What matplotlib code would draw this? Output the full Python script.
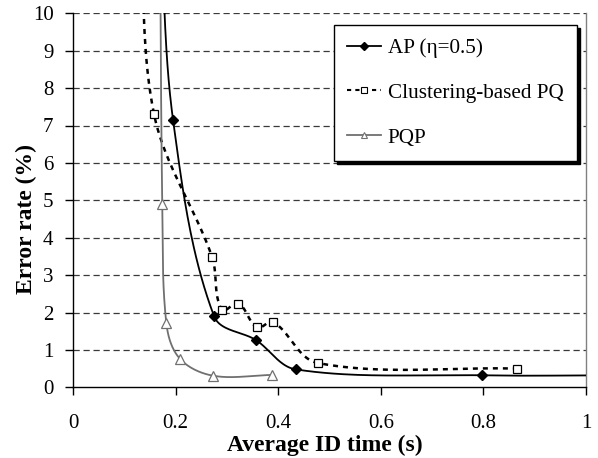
import numpy as np
import matplotlib
matplotlib.use("Agg")
import matplotlib.pyplot as plt
from matplotlib.lines import Line2D

plt.rcParams['font.family'] = ['Liberation Serif', 'DejaVu Serif']

# ---- data ----
ap_x = [0.170, 0.195, 0.275, 0.357, 0.434, 0.798, 1.05]
ap_y = [12.5, 7.15, 1.90, 1.26, 0.48, 0.32, 0.32]

cpq_x = [0.131, 0.158, 0.271, 0.290, 0.322, 0.359, 0.390, 0.477, 0.866]
cpq_y = [13.0, 7.30, 3.49, 2.07, 2.24, 1.60, 1.75, 0.65, 0.50]

pqp_x = [0.169, 0.174, 0.182, 0.208, 0.273, 0.387]
pqp_y = [14.0, 4.90, 1.71, 0.77, 0.31, 0.33]

x_ticks = [0, 0.2, 0.4, 0.6, 0.8, 1]
x_tick_labels = ['0', '0.2', '0.4', '0.6', '0.8', '1']
y_ticks = list(range(0, 11))

labels = ['AP (\u03b7=0.5)', 'Clustering-based PQ', 'PQP']


def smooth(xs, ys, sx=512.0, sy=37.4, n=40):
    """Bezier smoothing (Excel-like, no overshoot) in approximate screen space."""
    P = np.column_stack([np.asarray(xs) * sx, np.asarray(ys) * sy])
    out = [P[0]]

    def unit(v):
        n_ = np.hypot(*v)
        return v / n_ if n_ > 0 else v

    for i in range(len(P) - 1):
        p0 = P[i - 1] if i > 0 else P[i]
        p1 = P[i]
        p2 = P[i + 1]
        p3 = P[i + 2] if i + 2 < len(P) else P[i + 1]
        d = np.hypot(*(p2 - p1)) / 3.0
        c1 = p1 + unit(p2 - p0) * d
        c2 = p2 - unit(p3 - p1) * d
        t = np.linspace(0, 1, n)[1:, None]
        seg = ((1 - t) ** 3) * p1 + 3 * ((1 - t) ** 2) * t * c1 + 3 * (1 - t) * t ** 2 * c2 + t ** 3 * p2
        out.extend(seg)
    out = np.array(out)
    return out[:, 0] / sx, out[:, 1] / sy


fig = plt.figure(figsize=(5.98, 4.58), dpi=100)
ax = fig.add_axes([73 / 598, 1 - 387.3 / 458, (586 - 73) / 598, (387.3 - 13.3) / 458])

ax.set_xlim(0, 1)
ax.set_ylim(0, 10)

# gridlines
for yv in y_ticks[1:]:
    ax.axhline(yv, color='#3a3a3a', lw=0.9, ls=(0, (5, 3)), zorder=1)

# series
gray = '#707070'
sx, sy = smooth(cpq_x, cpq_y)
ax.plot(sx, sy, color='black', lw=1.8, ls=(0, (2, 2)), zorder=3)
ax.plot(cpq_x, cpq_y, ls='none', marker='s', ms=6, mfc='white', mec='black', mew=0.9, zorder=4)

sx, sy = smooth(ap_x, ap_y)
ax.plot(sx, sy, color='black', lw=1.3, zorder=3)
ax.plot(ap_x, ap_y, ls='none', marker='D', ms=5.5, mfc='black', mec='black', zorder=4)

sx, sy = smooth(pqp_x, pqp_y)
ax.plot(sx, sy, color=gray, lw=1.3, zorder=3)
ax.plot(pqp_x, pqp_y, ls='none', marker='^', ms=6.5, mfc='white', mec=gray, mew=0.9, zorder=4)

# axes styling
ax.spines['top'].set_visible(False)
ax.spines['right'].set_color('#808080')
ax.spines['right'].set_linewidth(1.0)
ax.spines['left'].set_linewidth(1.0)
ax.spines['bottom'].set_linewidth(1.0)

ax.set_xticks(x_ticks)
ax.set_xticklabels(x_tick_labels)
ax.set_yticks(y_ticks)
ax.tick_params(axis='both', direction='out', length=6, width=1.0, labelsize=15)
ax.tick_params(axis='x', pad=13.3)
ax.tick_params(axis='y', pad=8)

ax.set_xlabel('Average ID time (s)', fontsize=17, fontweight='bold', va='top')
ax.xaxis.set_label_coords(0.49, -0.127)
ax.set_ylabel('Error rate (%)', fontsize=17, fontweight='bold')
ax.yaxis.set_label_coords(-0.071, 0.45)

handles = [
    Line2D([], [], color='black', lw=1.3, marker='D', ms=4.5, mfc='black'),
    Line2D([], [], color='black', lw=1.5, ls=(0, (2, 2)), marker='s', ms=5, mfc='white', mec='black', mew=0.8),
    Line2D([], [], color=gray, lw=1.3, marker='^', ms=5, mfc='white', mec=gray, mew=0.8),
]
leg = ax.legend(handles, labels, loc='upper left', bbox_to_anchor=(0.508, 0.969),
                fontsize=15.2, frameon=True, fancybox=False, edgecolor='black',
                shadow={'color': 'black', 'alpha': 1.0, 'ox': 2.2, 'oy': -2.2},
                handlelength=1.6, handletextpad=0.33, borderpad=0.64, labelspacing=1.18,
                borderaxespad=0)
leg.get_frame().set_linewidth(1.0)
leg.set_zorder(10)

fig.savefig('out.png', dpi=100)
